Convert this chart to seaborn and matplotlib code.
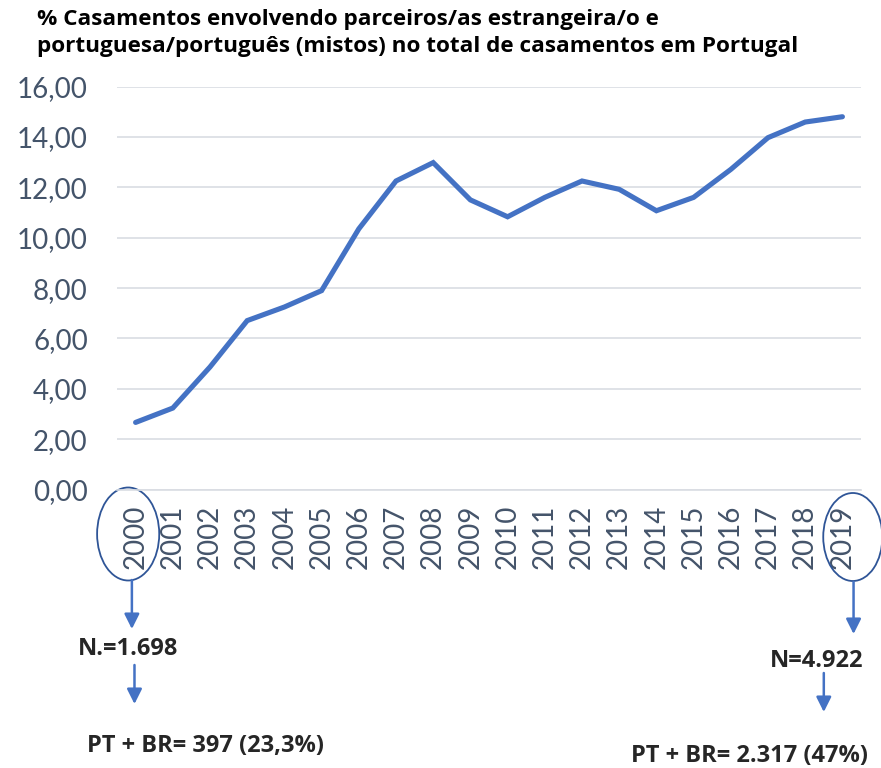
import matplotlib
matplotlib.use('Agg')
import matplotlib.pyplot as plt
import matplotlib.transforms as mtransforms
from matplotlib.patches import Ellipse
import seaborn as sns
import pandas as pd

years = [str(y) for y in range(2000, 2020)]
pct_mixed = [2.67, 3.24, 4.87, 6.71, 7.25, 7.90, 10.35, 12.25, 12.98, 11.50,
             10.83, 11.60, 12.25, 11.92, 11.07, 11.60, 12.71, 13.97, 14.59, 14.80]
y_ticks = [0, 2, 4, 6, 8, 10, 12, 14, 16]

title = ('% Casamentos envolvendo parceiros/as estrangeira/o e\n'
         'portuguesa/português (mistos) no total de casamentos em Portugal')
note_2000 = ['N.=1.698', 'PT + BR= 397 (23,3%)']
note_2019 = ['N=4.922', 'PT + BR= 2.317 (47%)']

df = pd.DataFrame({'ano': years, 'pct': pct_mixed})
df['pos'] = range(len(df))

sns.set_style('white')
plt.rcParams['font.family'] = ['Lato', 'DejaVu Sans']

blue = '#4472C4'
grid_c = '#D9DDE3'
tick_c = '#44546A'
bold_font = ['Open Sans', 'DejaVu Sans']

fig = plt.figure(figsize=(8.81, 7.68), dpi=100)
ax = fig.add_axes([117 / 881, 1 - 489.7 / 768, 744 / 881, 403.2 / 768])

sns.lineplot(data=df, x='pos', y='pct', ax=ax, color=blue, linewidth=3.7,
             solid_capstyle='round', solid_joinstyle='miter')

ax.set_xlim(-0.5, len(years) - 0.5)
ax.set_ylim(0, 16)
ax.set_yticks(y_ticks)
ax.set_yticklabels(['{:.2f}'.format(v).replace('.', ',') for v in y_ticks])
ax.set_xticks(df['pos'])
ax.set_xticklabels(years, rotation=90)
ax.set_xticks([p - 0.5 for p in range(len(years) + 1)], minor=True)
ax.set_xlabel('')
ax.set_ylabel('')

ax.grid(axis='y', color=grid_c, linewidth=1.2)
ax.set_axisbelow(True)
for s in ['top', 'right', 'left']:
    ax.spines[s].set_visible(False)
ax.spines['bottom'].set_color(grid_c)
ax.spines['bottom'].set_linewidth(1.2)

ax.tick_params(axis='y', length=0, pad=21, labelsize=20, labelcolor=tick_c)
ax.tick_params(axis='x', which='major', length=0, pad=11, labelsize=20,
               labelcolor=tick_c)
ax.tick_params(axis='x', which='minor', length=7, width=1.2, color=grid_c)

fig.text(37 / 881, 1 - 9 / 768, title, ha='left', va='top', fontsize=16.2,
         fontweight='bold', color='black', linespacing=1.35, family=bold_font)

# circles around the first and last year, arrows and notes
trans = mtransforms.blended_transform_factory(ax.transData, fig.transFigure)

def fy(px):
    return 1 - px / 768

ax.add_patch(Ellipse((-0.2, fy(534)), 1.67, 93 / 768, transform=trans,
                     fill=False, edgecolor='#2F5597', linewidth=1.3,
                     clip_on=False))
ax.add_patch(Ellipse((19.28, fy(537)), 1.59, 88 / 768, transform=trans,
                     fill=False, edgecolor='#2F5597', linewidth=1.3,
                     clip_on=False))

arrow_kw = dict(arrowstyle='-|>,head_length=0.9,head_width=0.45', color=blue,
                lw=1.8, shrinkA=0, shrinkB=0)

def arrow(x, y0, y1):
    ax.annotate('', xy=(x, fy(y1)), xycoords=trans, xytext=(x, fy(y0)),
                textcoords=trans, arrowprops=arrow_kw, annotation_clip=False)

arrow(-0.1, 580, 629)
arrow(-0.03, 665, 704)
arrow(19.3, 582, 634)
arrow(18.5, 673, 712)

note_kw = dict(fontsize=17, fontweight='bold', family=bold_font)
fig.text(78 / 881, fy(655), note_2000[0], ha='left', va='baseline', **note_kw)
fig.text(87 / 881, fy(752), note_2000[1], ha='left', va='baseline', **note_kw)
fig.text(863 / 881, fy(667), note_2019[0], ha='right', va='baseline', **note_kw)
fig.text(868 / 881, fy(762), note_2019[1], ha='right', va='baseline', **note_kw)

fig.savefig('out.png', dpi=100)
